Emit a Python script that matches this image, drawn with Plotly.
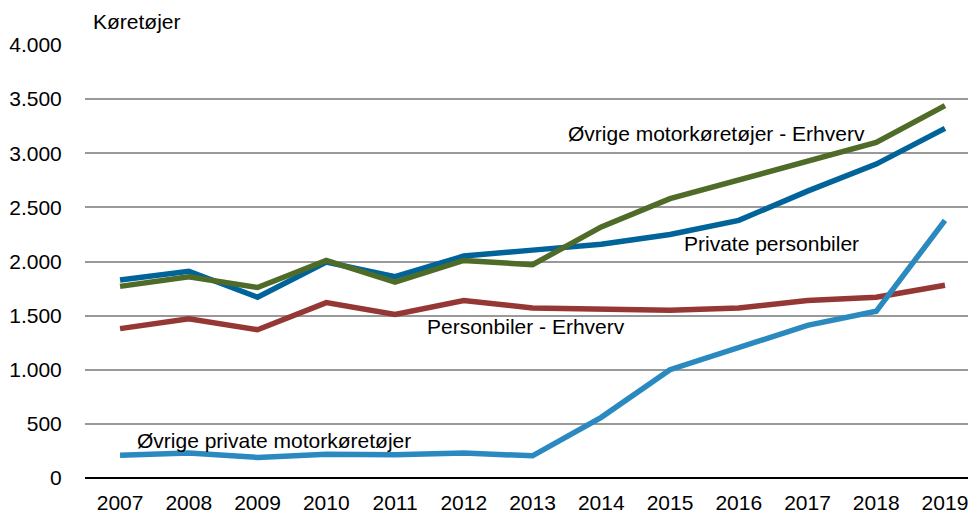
import plotly.graph_objects as go

years = [2007, 2008, 2009, 2010, 2011, 2012, 2013, 2014, 2015, 2016, 2017, 2018, 2019]
private_personbiler = [1830, 1910, 1670, 1995, 1860, 2050, 2105, 2160, 2250, 2380, 2650, 2900, 3230]
ovrige_erhverv = [1770, 1860, 1760, 2010, 1810, 2010, 1970, 2320, 2580, 2750, 2920, 3100, 3440]
personbiler_erhverv = [1380, 1470, 1370, 1620, 1510, 1640, 1570, 1560, 1550, 1570, 1640, 1670, 1780]
ovrige_private = [210, 230, 190, 220, 215, 230, 205, 560, 1000, 1200, 1410, 1540, 2380]

y_ticks = [0, 500, 1000, 1500, 2000, 2500, 3000, 3500, 4000]
y_ticklabels = ["0", "500", "1.000", "1.500", "2.000", "2.500", "3.000", "3.500", "4.000"]

FONT = "Liberation Sans, Arial, sans-serif"
FS = 21

series = [
    ("Personbiler - Erhverv", personbiler_erhverv, "#953735"),
    ("Øvrige private motorkøretøjer", ovrige_private, "#2A8AC0"),
    ("Private personbiler", private_personbiler, "#00649A"),
    ("Øvrige motorkøretøjer - Erhverv", ovrige_erhverv, "#4F6B28"),
]

fig = go.Figure()
for name, vals, col in series:
    fig.add_trace(go.Scatter(x=years, y=vals, mode="lines", name=name,
                             line=dict(color=col, width=5.5), showlegend=False))

def ann(text, x, y, xref="x", yref="y"):
    fig.add_annotation(text=text, x=x, y=y, xref=xref, yref=yref, xanchor="left",
                       yanchor="middle", showarrow=False, borderpad=0,
                       font=dict(family=FONT, size=FS, color="#000000"))

ann("Øvrige motorkøretøjer - Erhverv", 2013.50, 3187)
ann("Private personbiler", 2015.19, 2162)
ann("Personbiler - Erhverv", 2011.45, 1395)
ann("Øvrige private motorkøretøjer", 2007.23, 342)
ann("Køretøjer", (92 - 85) / 883, (478 - 22) / 433, xref="paper", yref="paper")

fig.update_layout(
    width=968, height=513,
    margin=dict(l=85, r=0, t=45, b=35),
    paper_bgcolor="white", plot_bgcolor="white",
    font=dict(family=FONT, size=FS, color="#000000"),
    xaxis=dict(range=[2006.49, 2019.335], tickmode="array", tickvals=years,
               ticktext=[str(y) for y in years], showgrid=False, zeroline=False,
               showline=False, ticks="outside", ticklen=6, tickcolor="rgba(0,0,0,0)",
               automargin=False, ticklabeloverflow="allow"),
    yaxis=dict(range=[0, 4000], tickmode="array", tickvals=y_ticks, ticktext=y_ticklabels,
               showgrid=True, gridcolor="#999999", gridwidth=1.5, zeroline=True,
               zerolinecolor="#000000", zerolinewidth=2, showline=False,
               ticks="outside", ticklen=18, tickcolor="rgba(0,0,0,0)",
               automargin=False, ticklabeloverflow="allow"),
)

fig.write_html("out.html", config={"displayModeBar": False},
               post_script="document.body.style.margin='0px';document.body.style.overflow='hidden';")
